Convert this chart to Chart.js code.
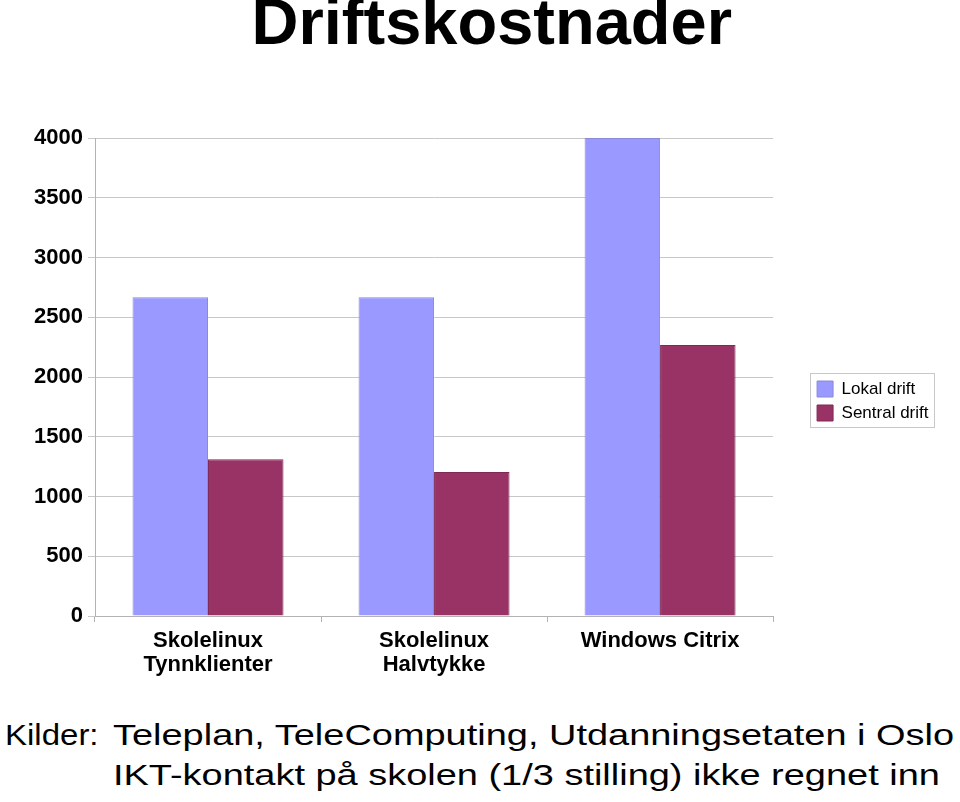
<!DOCTYPE html>
<html>
<head>
<meta charset="utf-8">
<title>Driftskostnader</title>
<script src="https://cdn.jsdelivr.net/npm/chart.js@4"></script>
<style>
    body { margin: 0; background: #fff; }
    #side { position: relative; width: 960px; height: 802px; font-family: 'Liberation Sans', Arial, sans-serif; }
    #grafBoks { position: absolute; left: 0; top: 0; width: 960px; height: 700px; }
    .kilde { position: absolute; font-size: 30px; line-height: 40px; color: #000; white-space: nowrap; transform-origin: 0 0; }
</style>
</head>
<body>
<div id="side">
    <div id="grafBoks"><canvas id="myChart"></canvas></div>
    <div class="kilde" style="left:5px; top:715px; transform: scaleX(1.1);">Kilder:</div>
    <div class="kilde" style="left:113px; top:715px; transform: scaleX(1.265);">Teleplan, TeleComputing, Utdanningsetaten i Oslo</div>
    <div class="kilde" style="left:113px; top:755px; transform: scaleX(1.265);">IKT-kontakt på skolen (1/3 stilling) ikke regnet inn</div>
</div>
<script>
//Data
const kategorier = [['Skolelinux', 'Tynnklienter'], ['Skolelinux', 'Halvtykke'], 'Windows Citrix'];
const lokalDrift = [2667, 2667, 4000];
const sentralDrift = [1311, 1205, 2268];
const serieNavn = ['Lokal drift', 'Sentral drift'];

Chart.defaults.font.family = "'Liberation Sans', Arial, sans-serif";
Chart.defaults.color = '#000';

//Flytter tittel og forklaring litt, og tegner ramme rundt forklaringen
const justering = {
    id: 'justering',
    afterLayout(chart) {
        const t = chart.titleBlock;
        t.left += 41; t.right += 41;
        const lg = chart.legend;
        lg.left += 37; lg.right += 37;
        lg.top += 51; lg.bottom += 51;
    },
    afterDraw(chart) {
        const boxes = chart.legend.legendHitBoxes;
        if (!boxes || !boxes.length) return;
        let x0 = Infinity, y0 = Infinity, x1 = -Infinity, y1 = -Infinity;
        boxes.forEach(b => {
            x0 = Math.min(x0, b.left); y0 = Math.min(y0, b.top);
            x1 = Math.max(x1, b.left + b.width); y1 = Math.max(y1, b.top + b.height);
        });
        const ctx = chart.ctx;
        ctx.save();
        ctx.strokeStyle = '#c8c8c8';
        ctx.lineWidth = 1;
        ctx.strokeRect(Math.round(x0 - 7) + 0.5, Math.round(y0 - 8) + 0.5, Math.round(x1 - x0 + 13), Math.round(y1 - y0 + 13));
        ctx.restore();
    }
};

let data = {
    labels: kategorier,
    datasets: [{
        label: serieNavn[0],
        data: lokalDrift,
        backgroundColor: '#9999ff',
        borderColor: '#8a8ad8',
        borderWidth: 1
    }, {
        label: serieNavn[1],
        data: sentralDrift,
        backgroundColor: '#993366',
        borderColor: '#7f2a55',
        borderWidth: 1
    }]
};

let config = {
    type: 'bar',
    data: data,
    plugins: [justering],
    options: {
        responsive: true,
        maintainAspectRatio: false,
        animation: false,
        layout: {
            padding: { left: 0, right: 58.5, top: 0, bottom: 0 }
        },
        datasets: {
            bar: { categoryPercentage: 0.668, barPercentage: 1.0 }
        },
        plugins: {
            title: {
                display: true,
                text: 'Driftskostnader',
                color: '#000',
                font: { size: 65, weight: 'bold', lineHeight: 0.8 },
                padding: { top: 0, bottom: 86 }
            },
            legend: {
                position: 'right',
                labels: {
                    boxWidth: 16,
                    boxHeight: 16,
                    padding: 7,
                    color: '#000',
                    font: { size: 17 }
                }
            },
            tooltip: { enabled: false }
        },
        scales: {
            x: {
                afterFit(scale) { scale.height = 84; },
                grid: {
                    drawOnChartArea: false,
                    drawTicks: true,
                    tickLength: 6,
                    color: '#b3b3b3'
                },
                border: { color: '#b3b3b3' },
                ticks: {
                    padding: 7,
                    maxRotation: 0,
                    color: '#000',
                    font: { size: 22, weight: 'bold', lineHeight: 1.1 }
                }
            },
            y: {
                min: 0,
                max: 4000,
                afterFit(scale) { scale.width = 95; },
                grid: {
                    color: '#c8c8c8',
                    drawTicks: true,
                    tickLength: 7
                },
                border: { color: '#b3b3b3' },
                ticks: {
                    stepSize: 500,
                    padding: 5,
                    color: '#000',
                    font: { size: 22, weight: 'bold' },
                    callback: v => String(v)
                }
            }
        }
    }
};

new Chart(document.getElementById('myChart'), config);
</script>
</body>
</html>
